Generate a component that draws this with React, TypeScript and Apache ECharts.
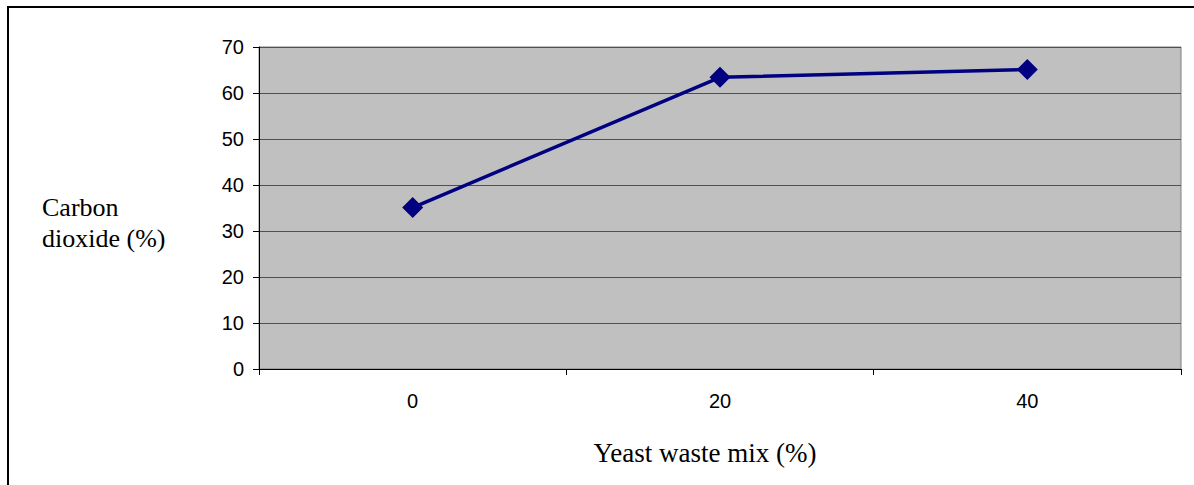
import React, { useEffect, useRef } from "react";
import * as echarts from "echarts";

// Yeast waste mix (%) categories and measured carbon dioxide (%)
const mixLevels = ["0", "20", "40"];
const co2Values = [35.1, 63.4, 65.1];
const yTicks = { min: 0, max: 70, interval: 10 };

const serif = '"Liberation Serif", "Times New Roman", serif';
const sans = '"Liberation Sans", Arial, sans-serif';

export default function App() {
  const ref = useRef<HTMLDivElement>(null);

  useEffect(() => {
    document.body.style.margin = "0";
    if (!ref.current) return;
    const chart = echarts.init(ref.current, null, { renderer: "svg" });
    chart.setOption({
      animation: false,
      backgroundColor: "#ffffff",
      grid: {
        left: 259,
        top: 47,
        right: 13,
        bottom: 116,
        show: true,
        backgroundColor: "#C0C0C0",
        borderColor: "#808080",
        borderWidth: 1,
      },
      graphic: [
        {
          type: "rect",
          shape: { x: 8, y: 7, width: 1200, height: 500 },
          style: { fill: "none", stroke: "#000", lineWidth: 2 },
          silent: true,
        },
        {
          type: "text",
          left: 42,
          top: 192,
          style: {
            text: "Carbon\ndioxide (%)",
            font: `26px ${serif}`,
            fill: "#000",
            lineHeight: 31,
          },
        },
      ],
      xAxis: {
        type: "category",
        data: mixLevels,
        boundaryGap: true,
        name: "Yeast waste mix (%)",
        nameLocation: "middle",
        nameGap: 70,
        nameTextStyle: {
          fontFamily: serif,
          fontSize: 27,
          color: "#000",
          padding: [0, 30, 0, 0],
        },
        axisLine: { lineStyle: { color: "#000", width: 1 } },
        axisTick: { show: true, length: 6, lineStyle: { color: "#000" } },
        axisLabel: {
          margin: 22,
          fontFamily: sans,
          fontSize: 20,
          color: "#000",
        },
        splitLine: { show: false },
      },
      yAxis: {
        type: "value",
        min: yTicks.min,
        max: yTicks.max,
        interval: yTicks.interval,
        axisLine: { show: true, lineStyle: { color: "#000", width: 1 } },
        axisTick: { show: true, length: 6, lineStyle: { color: "#000" } },
        axisLabel: {
          margin: 15,
          fontFamily: sans,
          fontSize: 20,
          color: "#000",
        },
        splitLine: { show: true, lineStyle: { color: "#505050", width: 1 } },
      },
      series: [
        {
          type: "line",
          data: co2Values,
          symbol: "diamond",
          symbolSize: [21, 21],
          lineStyle: { color: "#000080", width: 3.5 },
          itemStyle: { color: "#000080" },
        },
      ],
    });
    return () => chart.dispose();
  }, []);

  return <div ref={ref} style={{ width: 1194, height: 485 }} />;
}
